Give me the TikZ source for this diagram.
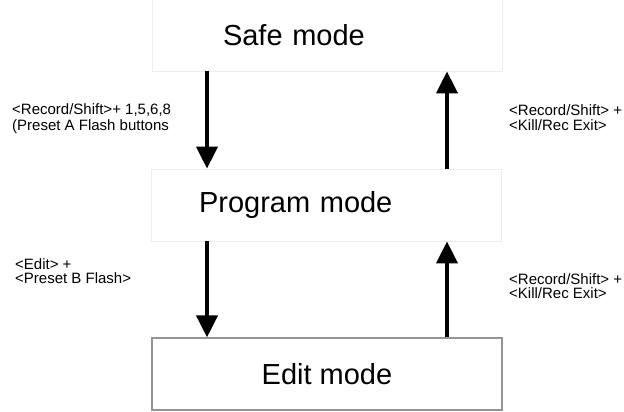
\documentclass[tikz,border=0pt]{standalone}
\usepackage{fontspec}
\setmainfont{Liberation Sans}
\usetikzlibrary{arrows.meta}
\begin{document}
\begin{tikzpicture}[x=1pt,y=-1pt,
  faintbox/.style={draw=black!7,line width=0.8pt,fill=white,minimum height=72pt,inner ysep=0pt,align=left,font=\fontsize{29}{34}\selectfont},
  editbox/.style={draw=black!42,line width=1.2pt,fill=white,minimum width=350pt,minimum height=72pt,align=center,font=\fontsize{29}{34}\selectfont},
  arr/.style={line width=4pt,-{Triangle[width=21pt,length=22pt]}},
  lbl/.style={anchor=base west,inner sep=0pt,align=left},
]
\useasboundingbox (0,0) rectangle (624,412);
\fill[white] (0,0) rectangle (624,412);
\node[faintbox,text width=208pt,inner xsep=71pt] (safe) at (327,35) {Safe mode};
\node[faintbox,text width=254pt,inner xsep=48pt] (prog) at (326,205) {Program mode};
\node[editbox] (edit) at (327,374) {Edit mode};
\coordinate (lx) at (207,0);
\coordinate (rx) at (447,0);
\draw[arr] (safe.south -| lx) -- (prog.north -| lx);
\draw[arr] (prog.north -| rx) -- (safe.south -| rx);
\draw[arr] (prog.south -| lx) -- (edit.north -| lx);
\draw[arr] (edit.north -| rx) -- (prog.south -| rx);
\node[lbl,font=\fontsize{15}{16}\selectfont] (l1) at (12,130) {<Record/Shift>+ 1,5,6,8\\(Preset A Flash buttons};
\node[lbl,font=\fontsize{15}{15}\selectfont] (r1) at (509,130) {<Record/Shift> +\\<Kill/Rec Exit>};
\node[lbl,font=\fontsize{15}{14}\selectfont] (l2) at (15,283) {<Edit> +\\<Preset B Flash>};
\node[lbl,font=\fontsize{15}{14}\selectfont] (r2) at (509,298) {<Record/Shift> +\\<Kill/Rec Exit>};
\end{tikzpicture}
\end{document}
